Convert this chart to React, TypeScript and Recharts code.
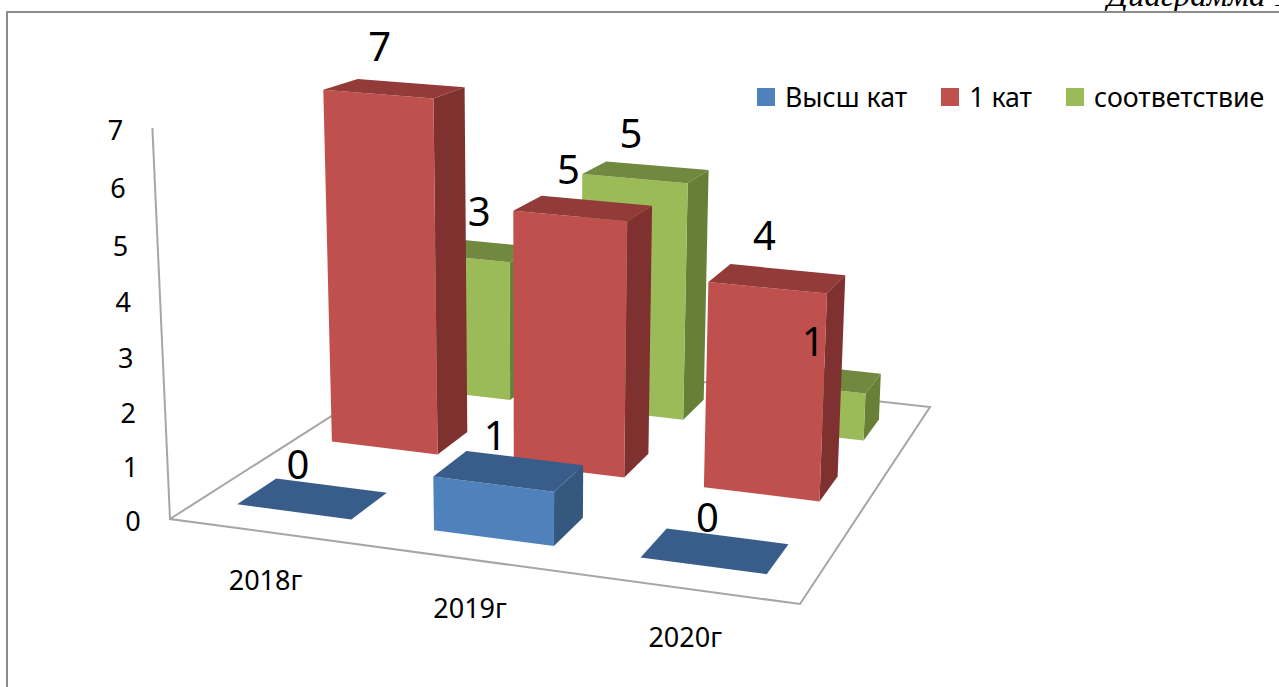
import { Bar, BarChart, LabelList, Legend, XAxis, YAxis } from "recharts";

const W = 1279;
const H = 687;
const FONT = "'Noto Sans', sans-serif";

const categories = ["2018г", "2019г", "2020г"];
const topCat = [0, 1, 0];
const firstCat = [7, 5, 4];
const matching = [3, 5, 1];
const valueTicks = [0, 1, 2, 3, 4, 5, 6, 7];
const legendOrder = ["Высш кат", "1 кат", "соответствие"];

const data = categories.map((name, i) => ({ name, topCat: topCat[i], firstCat: firstCat[i], matching: matching[i] }));

// drawn back to front, depth 0 is the front row
const series = [
  { key: "matching", name: "соответствие", depth: 2, front: "#9BBB59", top: "#71893F", side: "#678036" },
  { key: "firstCat", name: "1 кат", depth: 1, front: "#C0504D", top: "#923B39", side: "#7F3130" },
  { key: "topCat", name: "Высш кат", depth: 0, front: "#4F81BD", top: "#385D8A", side: "#35587F" },
];

// labels that Excel pushed away from the usual spot
const labelNudge: Record<string, number[]> = {
  "matching-0": [21, 0],
  "matching-2": [8, 2],
  "firstCat-0": [0, -4],
  "firstCat-2": [2, -4],
  "topCat-0": [0, 5],
  "topCat-1": [1, 3],
  "topCat-2": [7, 5],
};

// floor corners of the 3d box on screen
const F0 = [170, 519];
const F1 = [800, 604];
const B1 = [930, 407];
const B0 = [432, 352];
const VP = [530, 8500]; // where the verticals meet
const C3 = -0.0467;

const BAR_SIZE = 250;
const BAR_SHIFT = -0.005;
const DEPTH_START = 0.28;
const DEPTH_FRAC = 0.39;

const dx1 = F1[0] - B1[0];
const dx2 = B0[0] - B1[0];
const dy1 = F1[1] - B1[1];
const dy2 = B0[1] - B1[1];
const sx = F0[0] - F1[0] + B1[0] - B0[0];
const sy = F0[1] - F1[1] + B1[1] - B0[1];
const det = dx1 * dy2 - dx2 * dy1;
const g = (sx * dy2 - dx2 * sy) / det;
const h = (dx1 * sy - sx * dy1) / det;
const a = F1[0] - F0[0] + g * F1[0];
const b = B0[0] - F0[0] + h * B0[0];
const d = F1[1] - F0[1] + g * F1[1];
const e = B0[1] - F0[1] + h * B0[1];

// u across the categories, w into the depth, v up the value axis, all 0..1
function project(u: number, w: number, v: number) {
  const q = g * u + h * w + 1 + C3 * v;
  return [
    (a * u + b * w + F0[0] + VP[0] * C3 * v) / q,
    (d * u + e * w + F0[1] + VP[1] * C3 * v) / q,
  ];
}

const pts = (list: number[][]) => list.map((p) => `${p[0].toFixed(1)},${p[1].toFixed(1)}`).join(" ");

const depthRange = (depth: number) => [(depth + DEPTH_START) / 3, (depth + DEPTH_START + DEPTH_FRAC) / 3];

const makeShape = (s: (typeof series)[number]) => (props: any) => {
  const { x, y, width } = props;
  const u0 = x / W + BAR_SHIFT;
  const u1 = (x + width) / W + BAR_SHIFT;
  const v = (H - y) / H;
  const [w0, w1] = depthRange(s.depth);
  return (
    <g>
      {v > 0 && (
        <>
          <polygon
            points={pts([project(u1, w0, 0), project(u1, w1, 0), project(u1, w1, v), project(u1, w0, v)])}
            fill={s.side}
          />
          <polygon
            points={pts([project(u0, w0, 0), project(u1, w0, 0), project(u1, w0, v), project(u0, w0, v)])}
            fill={s.front}
          />
        </>
      )}
      <polygon
        points={pts([project(u0, w0, v), project(u1, w0, v), project(u1, w1, v), project(u0, w1, v)])}
        fill={s.top}
      />
    </g>
  );
};

const makeLabel = (s: (typeof series)[number]) => (props: any) => {
  const { x, y, width, value, index } = props;
  const [w0, w1] = depthRange(s.depth);
  const p = project((x + width / 2) / W + BAR_SHIFT, (w0 + w1) / 2, (H - y) / H);
  const nudge = labelNudge[`${s.key}-${index}`] ?? [0, 0];
  return (
    <text x={p[0] - 15 + nudge[0]} y={p[1] - 24 + nudge[1]} textAnchor="middle" fontSize={40} fontFamily={FONT} fill="#000">
      {value}
    </text>
  );
};

function ValueTick(props: any) {
  const p = project(0, 0, props.payload.value / 7);
  return (
    <text x={p[0] - 37} y={p[1] + 12} textAnchor="middle" fontSize={27} fontFamily={FONT} fill="#000">
      {props.payload.value}
    </text>
  );
}

function CategoryTick(props: any) {
  const p = project(props.x / W, 0, 0);
  return (
    <text x={p[0] - 3} y={p[1] + 58} textAnchor="middle" fontSize={27} fontFamily={FONT} fill="#000">
      {props.payload.value}
    </text>
  );
}

function Box() {
  const line = [project(0, 0, 1), project(0, 0, 0), project(1, 0, 0), project(1, 1, 0), project(0, 1, 0), project(0, 0, 0)];
  return <polyline points={pts(line)} fill="none" stroke="#a6a6a6" strokeWidth={2} />;
}

function LegendRow(props: any) {
  const items = (props.payload ?? [])
    .filter((p: any) => legendOrder.includes(p.value))
    .sort((p: any, q: any) => legendOrder.indexOf(p.value) - legendOrder.indexOf(q.value));
  return (
    <div style={{ display: "flex", gap: 34, fontFamily: FONT, fontSize: 26.7, whiteSpace: "nowrap" }}>
      {items.map((item: any) => (
        <div key={item.value} style={{ display: "flex", alignItems: "center", gap: 10 }}>
          <span style={{ width: 18, height: 18, background: item.color, display: "inline-block" }} />
          <span>{item.value}</span>
        </div>
      ))}
    </div>
  );
}

export default function App() {
  return (
    <div style={{ position: "absolute", left: 0, top: 0, width: W, height: H, overflow: "hidden", background: "#fff" }}>
      <div
        style={{
          position: "absolute",
          left: 1107,
          top: -23,
          fontFamily: "'Liberation Serif', serif",
          fontStyle: "italic",
          fontSize: 33,
          whiteSpace: "nowrap",
        }}
      >
        Диаграмма 1
      </div>
      <div style={{ position: "absolute", left: 6, top: 11, width: W, height: H, border: "2px solid #8c8c8c" }} />
      <BarChart
        width={W}
        height={H}
        data={data}
        margin={{ top: 0, right: 0, bottom: 0, left: 0 }}
        barSize={BAR_SIZE}
        barGap={-BAR_SIZE}
        style={{ position: "absolute", left: 0, top: 0 }}
      >
        <XAxis dataKey="name" mirror axisLine={false} tickLine={false} interval={0} tick={<CategoryTick />} />
        <YAxis mirror domain={[0, 7]} ticks={valueTicks} axisLine={false} tickLine={false} interval={0} tick={<ValueTick />} />
        <Box />
        <Legend
          layout="vertical"
          align="center"
          verticalAlign="middle"
          content={<LegendRow />}
          wrapperStyle={{ left: 757, top: 78, width: 520 }}
        />
        {series.map((s) => (
          <Bar key={s.key} dataKey={s.key} name={s.name} fill={s.front} shape={makeShape(s)} isAnimationActive={false} />
        ))}
        {series.map((s) => (
          <Bar key={`${s.key}-labels`} dataKey={s.key} legendType="none" shape={() => null} isAnimationActive={false}>
            <LabelList dataKey={s.key} content={makeLabel(s)} />
          </Bar>
        ))}
      </BarChart>
    </div>
  );
}
